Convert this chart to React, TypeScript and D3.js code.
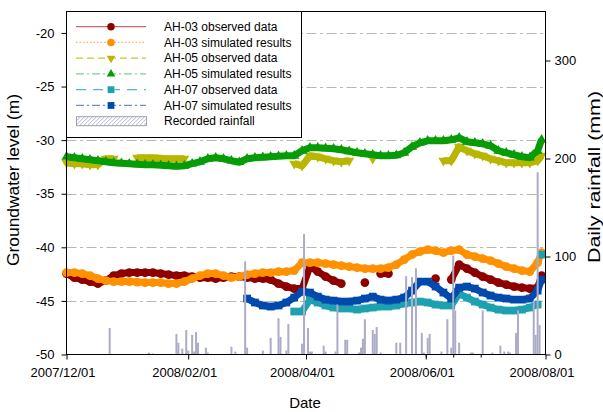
import { useEffect, useRef } from "react";
import * as d3 from "d3";

// groundwater readings, one every 4 days from 2007/12/01, plus the last reading on day 242
const startDate = "2007-12-01";
const endDate = "2008-08-01";
const sampleDays = [...d3.range(0, 241, 4), 242];

const gap = (n: number) => new Array(n).fill(null);

const ah03Observed = [
  -42.45, -42.83, -43.01, -43.2, -43.38, -43.11, -42.64, -42.45, -42.36, -42.36,
  -42.36, -42.36, -42.45, -42.55, -42.64, -42.64, -42.73, -42.83, -42.83, -42.92,
  -42.83, -42.73, -42.73, -42.83, -42.92, -42.92, -43.01, -43.38, -43.66, -43.85,
  -43.85, -41.8, -42.27, -42.73, -43.11, -43.38, null, null, -43.29, null,
  -42.45, -42.45, null, null, null, null, null, -42.92, null, -43.01,
  -41.61, -41.99, -42.36, -42.73, -43.01, -43.29, -43.48, -43.66, -43.76, -43.85,
  -43.76, -42.64,
];
const ah03Simulated = [
  -42.36, -42.36, -42.45, -42.64, -42.92, -43.11, -43.2, -43.2, -43.2, -43.24,
  -43.29, -43.29, -43.29, -43.38, -43.38, -43.2, -42.92, -42.64, -42.45, -42.45,
  -42.64, -42.83, -42.73, -42.55, -42.45, -42.36, -42.36, -42.27, -42.27, -42.17,
  -41.43, -41.43, -41.43, -41.52, -41.61, -41.71, -41.8, -41.89, -41.99, -41.99,
  -41.99, -41.89, -41.61, -41.15, -40.68, -40.4, -40.22, -40.31, -40.5, -40.31,
  -40.22, -40.68, -40.87, -41.06, -41.24, -41.52, -41.8, -41.99, -42.17, -42.27,
  -41.43, -40.5,
];
const ah05Observed = [
  -32.11, -32.2, -32.2, -32.3, -32.3, -31.74, -31.74, null, null, -31.64,
  -31.64, -31.64, -31.69, -31.74, -31.74, -31.74, null, null, null, null,
  null, null, null, null, null, null, null, null, null, -32.2,
  -32.39, -31.46, -31.55, -31.74, -31.92, -32.02, -31.92, null, null, -31.74,
  null, null, null, null, null, null, null, null, -31.92, -31.92,
  -30.62, -30.99, -31.27, -31.46, -31.74, -31.92, -32.11, -32.11, -32.11, -32.11,
  -31.92, -31.46,
];
const ah05Simulated = [
  -31.55, -31.64, -31.74, -31.83, -31.92, -32.02, -32.11, -32.16, -32.2, -32.25,
  -32.3, -32.3, -32.34, -32.39, -32.44, -32.39, -32.2, -32.02, -31.74, -31.64,
  -31.74, -31.92, -32.06, -31.74, -31.64, -31.6, -31.55, -31.5, -31.46, -31.46,
  -30.99, -30.71, -30.71, -30.76, -30.8, -30.9, -31.04, -31.18, -31.27, -31.37,
  -31.46, -31.46, -31.41, -31.18, -30.62, -30.25, -30.06, -30.06, -30.06, -29.97,
  -29.78, -30.15, -30.25, -30.34, -30.53, -30.99, -31.18, -31.37, -31.55, -31.64,
  -30.99, -29.97,
];
const ah07Observed = [
  ...gap(29),
  -45.99,
  -45.99, -44.88, -45.15, -45.43, -45.62, -45.71, -45.71, -45.81, -45.71, -45.62,
  -45.53, -45.53, -45.43, -45.25, -45.15, -45.06, -45.15, -45.34, -45.43, -45.43,
  -44.32, -44.69, -45.06, -45.34, -45.62, -45.81, -45.9, -45.9, -45.81, -45.62,
  -45.34, -40.68,
];
const ah07Simulated = [
  ...gap(23),
  -44.78, -45.15, -45.43, -45.53, -45.43, -45.15, -44.69,
  -44.13, -44.22, -44.6, -44.88, -44.97, -45.06, -45.06, -44.97, -44.78, -44.6,
  -44.88, -44.97, -44.88, -44.69, -44.04, -43.2, -43.2, -43.66, -44.22, -44.78,
  -43.76, -43.66, -43.85, -44.22, -44.5, -44.69, -44.78, -44.88, -44.88, -44.78,
  -44.04, -43.01,
];

// daily rainfall (mm), only the rainy days
const rainDates = [
  "2007-12-23", "2008-01-12", "2008-01-14", "2008-01-26", "2008-01-27", "2008-01-29",
  "2008-01-31", "2008-02-01", "2008-02-03", "2008-02-04", "2008-02-05", "2008-02-06",
  "2008-02-10", "2008-02-11", "2008-02-23", "2008-02-25", "2008-03-01", "2008-03-02",
  "2008-03-10", "2008-03-14", "2008-03-18", "2008-03-19", "2008-03-22", "2008-03-23",
  "2008-03-30", "2008-03-31", "2008-04-02", "2008-04-03", "2008-04-04", "2008-04-10",
  "2008-04-11", "2008-04-16", "2008-04-17", "2008-04-21", "2008-04-22", "2008-04-28",
  "2008-04-29", "2008-04-30", "2008-05-01", "2008-05-05", "2008-05-06", "2008-05-07",
  "2008-05-09", "2008-05-17", "2008-05-19", "2008-05-22", "2008-05-25", "2008-05-27",
  "2008-05-30", "2008-05-31", "2008-06-02", "2008-06-03", "2008-06-09", "2008-06-12",
  "2008-06-14", "2008-06-15", "2008-06-16", "2008-06-18", "2008-06-24", "2008-06-25",
  "2008-06-30", "2008-07-05", "2008-07-09", "2008-07-11", "2008-07-13", "2008-07-14",
  "2008-07-17", "2008-07-18", "2008-07-26", "2008-07-27", "2008-07-28", "2008-07-29",
];
const rainMm = [
  27, 2, 1, 21, 12, 6,
  25, 4, 20, 3, 23, 12,
  7, 2, 8, 3, 95, 7,
  4, 17, 37, 18, 4, 31,
  11, 123, 27, 3, 3, 9,
  3, 3, 51, 15, 15, 2,
  7, 16, 36, 25, 21, 28,
  2, 12, 12, 80, 79, 88,
  22, 2, 17, 21, 3, 36,
  7, 101, 45, 12, 2, 2,
  45, 2, 9, 3, 3, 2,
  22, 45, 55, 20, 186, 30,
];

const dateTicks = ["2007-12-01", "2008-02-01", "2008-04-01", "2008-06-01", "2008-08-01"];
const levelTicks = [-50, -45, -40, -35, -30, -25, -20];
const gridTicks = [-45, -40, -35, -30, -25, -20];
const rainTicks = [0, 100, 200, 300];

const FONT = "'Liberation Sans', Arial, sans-serif";
const W = 603;
const H = 412;
const plot = { left: 66.5, right: 545.5, top: 11.5, bottom: 354.5 };

const series = [
  { name: "AH-03 observed data", values: ah03Observed, line: "#c46a6a", dash: "", marker: "#8e0000", shape: "circle" },
  { name: "AH-03 simulated results", values: ah03Simulated, line: "#ffb45a", dash: "1.5,2", marker: "#ff9000", shape: "circle" },
  { name: "AH-05 observed data", values: ah05Observed, line: "#c8c832", dash: "7,4", marker: "#b8b600", shape: "down" },
  { name: "AH-05 simulated results", values: ah05Simulated, line: "#84d084", dash: "8,3,2,3", marker: "#079c07", shape: "up" },
  { name: "AH-07 observed data", values: ah07Observed, line: "#48bcd0", dash: "10,7", marker: "#1da1b1", shape: "square" },
  { name: "AH-07 simulated results", values: ah07Simulated, line: "#6a8ed4", dash: "8,3,2,3", marker: "#0049ad", shape: "square" },
];

const symbolPath = (shape: string, big: boolean) => {
  if (shape === "circle") return d3.symbol(d3.symbolCircle, big ? 60 : 44)()!;
  if (shape === "square") return d3.symbol(d3.symbolSquare, big ? 60 : 46)()!;
  return d3.symbol(d3.symbolTriangle, big ? 44 : 32)()!;
};

type Pt = { date: Date; v: number | null };

export default function App() {
  const ref = useRef<SVGSVGElement | null>(null);

  useEffect(() => {
    const svg = d3.select(ref.current);
    svg.selectAll("*").remove();

    const parse = d3.utcParse("%Y-%m-%d");
    const t0 = parse(startDate)!;
    const x = d3.scaleUtc().domain([t0, parse(endDate)!]).range([plot.left, plot.right]);
    const y = d3.scaleLinear().domain([-50, -18]).range([plot.bottom, plot.top]);
    const yR = d3.scaleLinear().domain([0, 350]).range([plot.bottom, plot.top]);
    const dates = sampleDays.map(d => d3.utcDay.offset(t0, d));

    const defs = svg.append("defs");
    const pat = defs.append("pattern").attr("id", "hatch").attr("patternUnits", "userSpaceOnUse")
      .attr("width", 4).attr("height", 4);
    pat.append("rect").attr("width", 4).attr("height", 4).attr("fill", "#fff");
    pat.append("path").attr("d", "M-1,1 L1,-1 M0,4 L4,0 M3,5 L5,3").attr("stroke", "#b4b4d0").attr("stroke-width", 1);

    svg.append("rect").attr("width", W).attr("height", H).attr("fill", "#fff");

    // grid
    svg.append("g").selectAll("line").data(gridTicks).join("line")
      .attr("x1", plot.left).attr("x2", plot.right)
      .attr("y1", d => Math.round(y(d)) + 0.5).attr("y2", d => Math.round(y(d)) + 0.5)
      .attr("stroke", "#b9b9aa").attr("stroke-dasharray", "10,3.5,3,3.5");

    // series: dense daily markers read as a thick band, so the band is drawn under the markers
    const line = d3.line<Pt>().x(d => x(d.date)).y(d => y(d.v as number));
    series.forEach(s => {
      const pts: Pt[] = dates.map((d, i) => ({ date: d, v: s.values[i] as number | null }));
      const segs: Pt[][] = [];
      let cur: Pt[] = [];
      pts.forEach((p, i) => {
        const prev = i > 0 ? pts[i - 1] : null;
        if (p.v == null || (prev && prev.v != null && Math.abs(p.v - prev.v) > 2.5)) {
          if (cur.length) segs.push(cur);
          cur = [];
        }
        if (p.v != null) cur.push(p);
      });
      if (cur.length) segs.push(cur);

      const g = svg.append("g");
      g.selectAll("path.band").data(segs.filter(sg => sg.length > 1)).join("path").attr("class", "band")
        .attr("d", sg => line(sg)).attr("fill", "none")
        .attr("stroke", s.marker).attr("stroke-width", 7).attr("stroke-linejoin", "round");
      g.selectAll("path.m").data(pts.filter(p => p.v != null)).join("path").attr("class", "m")
        .attr("d", symbolPath(s.shape, true))
        .attr("transform", d => `translate(${x(d.date)},${y(d.v as number)})${s.shape === "down" ? " rotate(180)" : ""}`)
        .attr("fill", s.marker);
    });

    // rainfall on the secondary axis
    const rain = rainDates.map((d, i) => ({ date: parse(d)!, mm: rainMm[i] }));
    svg.append("g").selectAll("rect").data(rain).join("rect")
      .attr("x", d => x(d.date) - 1).attr("width", 2)
      .attr("y", d => yR(d.mm)).attr("height", d => yR(0) - yR(d.mm))
      .attr("fill", "#acacc8");

    // frame
    svg.append("rect").attr("x", plot.left).attr("y", plot.top)
      .attr("width", plot.right - plot.left).attr("height", plot.bottom - plot.top)
      .attr("fill", "none").attr("stroke", "#000");

    const styleAxis = (g: d3.Selection<SVGGElement, unknown, null, undefined>) => {
      g.attr("font-family", FONT).attr("font-size", 13);
      g.select(".domain").remove();
      g.selectAll("line").attr("stroke", "#000");
      g.selectAll("text").attr("fill", "#000");
    };

    svg.append("g").attr("transform", `translate(${plot.left},0)`)
      .call(d3.axisLeft(y).tickValues(levelTicks).tickSize(5).tickSizeOuter(0).tickPadding(7).tickFormat(d => String(d)))
      .call(styleAxis);

    svg.append("g").attr("transform", `translate(${plot.right},0)`)
      .call(d3.axisRight(yR).tickValues(rainTicks).tickSize(5).tickSizeOuter(0).tickPadding(4).tickFormat(d => String(d)))
      .call(styleAxis);

    // minor date ticks every two weeks
    svg.append("g").attr("transform", `translate(0,${plot.bottom})`)
      .call(d3.axisBottom(x).ticks(d3.utcDay.every(14)!.filter(d => d3.utcDay.count(d3.utcDay.offset(t0, 1), d) % 14 === 0)).tickSize(3).tickSizeOuter(0).tickFormat(() => ""))
      .call(styleAxis);

    const xg = svg.append("g").attr("transform", `translate(0,${plot.bottom})`)
      .call(d3.axisBottom(x).tickValues(dateTicks.map(d => parse(d)!)).tickSize(5).tickSizeOuter(0).tickPadding(8)
        .tickFormat(d => d3.utcFormat("%Y/%m/%d")(d as Date)))
      .call(styleAxis);
    xg.selectAll("text").attr("dx", -4);

    // axis titles
    svg.append("text").attr("x", 305).attr("y", 408).attr("text-anchor", "middle")
      .attr("font-family", FONT).attr("font-size", 15).text("Date");
    svg.append("text").attr("transform", "translate(19,180) rotate(-90)").attr("text-anchor", "middle")
      .attr("font-family", FONT).attr("font-size", 16)
      .attr("textLength", 172).attr("lengthAdjust", "spacingAndGlyphs").text("Groundwater level (m)");
    svg.append("text").attr("transform", "translate(600,177) rotate(-90)").attr("text-anchor", "middle")
      .attr("font-family", FONT).attr("font-size", 16)
      .attr("textLength", 172).attr("lengthAdjust", "spacingAndGlyphs").text("Daily rainfall (mm)");

    // legend
    const lg = svg.append("g");
    lg.append("rect").attr("x", 66.5).attr("y", 11.5).attr("width", 235).attr("height", 126)
      .attr("fill", "#fff").attr("stroke", "#000");
    const rowY = (i: number) => 26.7 + i * 15.75;
    series.forEach((s, i) => {
      const r = lg.append("g").attr("transform", `translate(0,${rowY(i)})`);
      r.append("line").attr("x1", 76).attr("x2", 146).attr("stroke", s.line)
        .attr("stroke-width", 1.2).attr("stroke-dasharray", s.dash);
      r.append("path").attr("d", symbolPath(s.shape, false))
        .attr("transform", `translate(111,0)${s.shape === "down" ? " rotate(180)" : ""}`)
        .attr("fill", s.marker);
      r.append("text").attr("x", 164).attr("dy", "0.35em").attr("font-family", FONT)
        .attr("font-size", 12).text(s.name);
    });
    const rr = lg.append("g").attr("transform", `translate(0,${rowY(6)})`);
    rr.append("rect").attr("x", 76.5).attr("y", -4.5).attr("width", 70).attr("height", 9)
      .attr("fill", "url(#hatch)").attr("stroke", "#9e9ec0");
    rr.append("text").attr("x", 164).attr("dy", "0.35em").attr("font-family", FONT)
      .attr("font-size", 12).text("Recorded rainfall");
  }, []);

  return (
    <div style={{ position: "absolute", left: 0, top: 0 }}>
      <svg ref={ref} width={W} height={H} />
    </div>
  );
}
